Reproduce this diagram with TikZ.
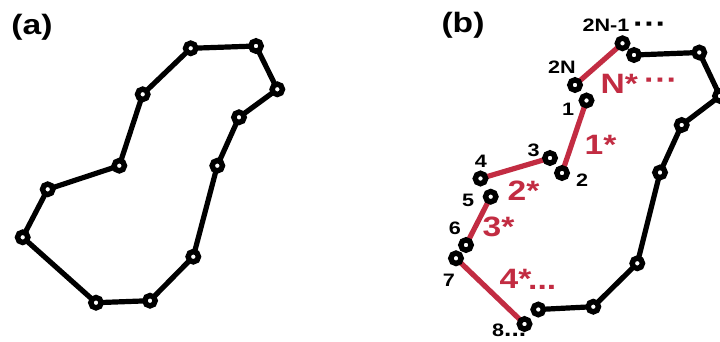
\documentclass[tikz,border=0pt]{standalone}
\usepackage{fontspec}
\setmainfont{Liberation Sans}
\definecolor{chainred}{RGB}{194,44,66}
\newcommand{\wide}[1]{\scalebox{1.2}[1]{#1}}
\begin{document}
\begin{tikzpicture}[x=1pt,y=-1pt,
  ring/.style={circle,draw=black,fill=white,line width=5.4pt,inner sep=0pt,minimum size=10.4pt},
  blk/.style={draw=black,line width=5.2pt},
  redl/.style={draw=chainred,line width=5.2pt},
  panel/.style={font=\fontsize{28}{30}\selectfont\bfseries,inner sep=0pt},
  num/.style={font=\fontsize{18}{20}\selectfont\bfseries,inner sep=0pt},
  bond/.style={font=\fontsize{28}{30}\selectfont\bfseries,text=chainred,inner sep=0pt}]
\useasboundingbox (0,0) rectangle (720,341);
% ---------- panel (a)
\node[panel] (la) at (32,27.5) {\wide{(a)}};
\foreach \n/\x/\y in {1/190.7/48.3, 2/256/46, 3/277.3/89.3, 4/239/117.3, 5/217.3/165.7,
  6/193.3/256.7, 7/150/300.7, 8/96/302.7, 9/22.7/237.3, 10/47.7/189.3, 11/119.3/165.7, 12/142.7/94.3}
  \coordinate (pa\n) at (\x,\y);
\draw[blk,line join=round] (pa1)--(pa2)--(pa3)--(pa4)--(pa5)--(pa6)--(pa7)--(pa8)--(pa9)--(pa10)--(pa11)--(pa12)--cycle;
\foreach \n in {1,...,12} \node[ring] (a\n) at (pa\n) {};
% ---------- panel (b)
\node[panel] (lb) at (463,25) {\wide{(b)}};
\coordinate (pb1) at (586.5,100.5);
\coordinate (pb2N) at (575,85);
\coordinate (pb2Nm) at (622.5,43.3);
\coordinate (pbX) at (634,55);
\coordinate (pb3) at (550,158);
\coordinate (pb2) at (562,173);
\coordinate (pb4) at (480.5,178.5);
\coordinate (pb5) at (490.7,196.7);
\coordinate (pb6) at (466,245);
\coordinate (pb7) at (456,258.3);
\coordinate (pb8) at (524.5,324);
\coordinate (pb9) at (538.3,309.5);
\coordinate (pb10) at (593.3,306.7);
\coordinate (pb11) at (637.3,263.3);
\coordinate (pb12) at (660,172.5);
\coordinate (pb13) at (681.7,125);
\coordinate (pb14) at (720,96);
\coordinate (pb15) at (699.3,52.5);
% black chain
\draw[blk,line join=round] (pbX)--(pb15)--(pb14)--(pb13)--(pb12)--(pb11)--(pb10)--(pb9);
% red bonds
\draw[redl] (pb1)--(pb2);
\draw[redl] (pb3)--(pb4);
\draw[redl] (pb5)--(pb6);
\draw[redl] (pb7)--(pb8);
\draw[redl] (pb2N)--(pb2Nm);
% beads
\foreach \n in {15,14,13,12,11,10,9,8,7,6,5,4,3,2,X,2Nm,1,2N} \node[ring] (b\n) at (pb\n) {};
% numbers
\node[num] (t2Nm) at (606,25) {\wide{2N-1}};
\node[num,anchor=base west,font=\fontsize{28}{30}\selectfont\bfseries] (t2Nmd) at (633,33.5) {\wide{···}};
\node[num] (t2N) at (562,67) {\wide{2N}};
\node[num] (t1) at (568,109) {\wide{1}};
\node[num] (t3) at (533.5,150) {\wide{3}};
\node[num] (t2) at (582,180) {\wide{2}};
\node[num] (t4) at (481,161.5) {\wide{4}};
\node[num] (t5) at (468,200) {\wide{5}};
\node[num] (t6) at (455,228) {\wide{6}};
\node[num] (t7) at (449,280) {\wide{7}};
\node[num,anchor=base west] (t8) at (492,336) {\wide{8{\fontsize{22}{24}\selectfont...}}};
% bond labels
\node[bond,anchor=base west] (rN) at (600.5,93) {\wide{N*}};
\node[bond,anchor=base west] (rNd) at (644,89) {\wide{···}};
\node[bond,anchor=base west] (r1) at (584.5,154) {\wide{1*}};
\node[bond,anchor=base west] (r2) at (507.5,200.5) {\wide{2*}};
\node[bond,anchor=base west] (r3) at (482.5,236) {\wide{3*}};
\node[bond,anchor=base west] (r4) at (499.5,288) {\wide{4*}};
\node[bond,anchor=base west] (r4d) at (528,289) {\wide{...}};
\end{tikzpicture}
\end{document}
